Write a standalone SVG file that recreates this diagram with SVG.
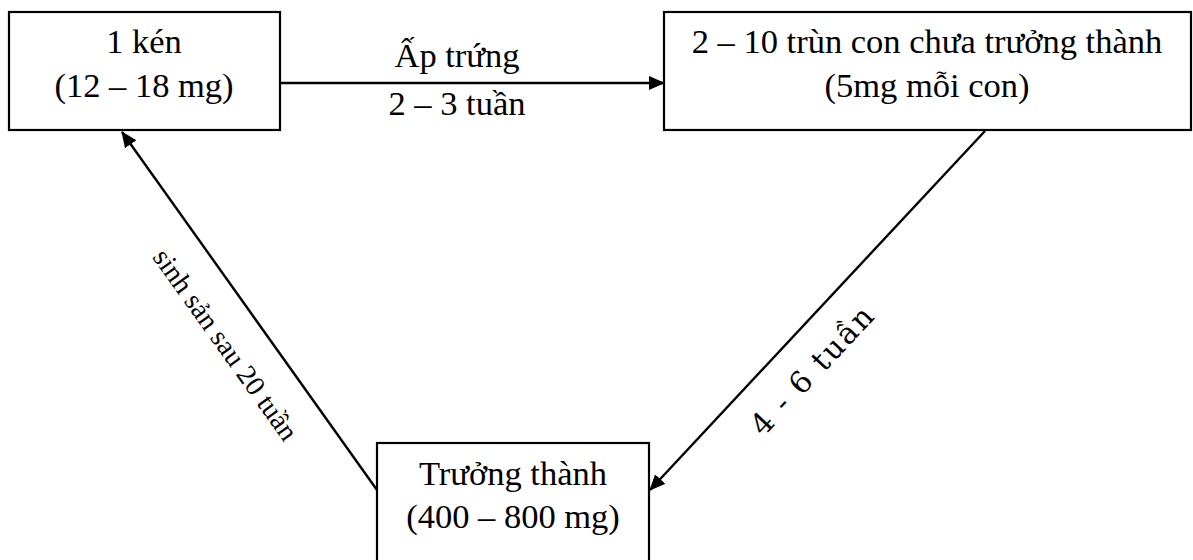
<svg xmlns="http://www.w3.org/2000/svg" width="1193" height="560" viewBox="0 0 1193 560">
  <style>
    .box { fill: #ffffff; stroke: #000000; stroke-width: 2.2; }
    .lbl { font-family: "Liberation Serif", "Times New Roman", serif; font-size: 34.5px; fill: #000000; text-anchor: middle; }
    .edge { stroke: #000000; stroke-width: 2.4; fill: none; marker-end: url(#arrow); }
    .elbl { font-family: "Liberation Serif", "Times New Roman", serif; font-size: 34.5px; fill: #000000; text-anchor: middle; }
    .diag { font-size: 28px; }
    .wide { font-family: "DejaVu Serif", serif; font-size: 30px; letter-spacing: 2px; }
  </style>
  <defs>
    <marker id="arrow" viewBox="0 0 16 14" refX="15" refY="7" markerWidth="16" markerHeight="14" markerUnits="userSpaceOnUse" orient="auto">
      <path d="M0,0 L16,7 L0,14 Z" fill="#000000"/>
    </marker>
  </defs>
  <rect width="1193" height="560" fill="#ffffff"/>

  <!-- connectors and their labels -->
  <g id="connectors">
    <line class="edge" x1="280" y1="83" x2="664" y2="83"/>
    <line class="edge" x1="985" y1="131" x2="650" y2="490"/>
    <line class="edge" x1="377" y1="490" x2="122" y2="132"/>
    <text class="elbl" x="457" y="67">Ấp trứng</text>
    <text class="elbl" x="457" y="115">2 – 3 tuần</text>
    <text class="elbl diag" textLength="228" lengthAdjust="spacingAndGlyphs" transform="translate(218,350) rotate(54.5)">sinh sản sau 20 tuần</text>
    <text class="elbl wide" transform="translate(820,377) rotate(-46.9)">4 - 6 tuần</text>
  </g>

  <!-- cocoon -->
  <g id="node-cocoon">
    <rect class="box" x="9" y="12" width="271" height="118"/>
    <text class="lbl" x="144" y="53">1 kén</text>
    <text class="lbl" x="144" y="97">(12 – 18 mg)</text>
  </g>

  <!-- juveniles -->
  <g id="node-juvenile">
    <rect class="box" x="664" y="12" width="527" height="118"/>
    <text class="lbl" x="927" y="53">2 – 10 trùn con chưa trưởng thành</text>
    <text class="lbl" x="927" y="97">(5mg mỗi con)</text>
  </g>

  <!-- adult -->
  <g id="node-adult">
    <rect class="box" x="377" y="443" width="272" height="140"/>
    <text class="lbl" x="513" y="485">Trưởng thành</text>
    <text class="lbl" x="513" y="528">(400 – 800 mg)</text>
  </g>
</svg>
